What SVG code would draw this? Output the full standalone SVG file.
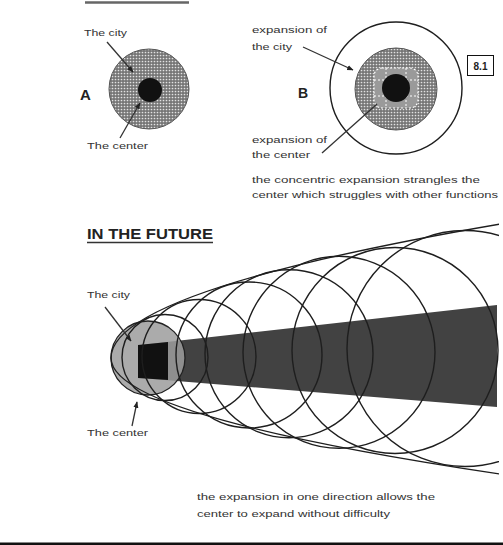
<svg xmlns="http://www.w3.org/2000/svg" width="503" height="545" viewBox="0 0 503 545">
<style>
.t{font-family:"Liberation Sans",Arial,sans-serif;font-size:9.5px;fill:#333}
.b{font-family:"Liberation Sans",Arial,sans-serif;font-weight:bold;fill:#222}
.ln{stroke:#333;stroke-width:1.3;fill:none}
.c{fill:none;stroke:#1e1e1e;stroke-width:1.4}
</style>
<defs>
<pattern id="dots" width="3" height="3" patternUnits="userSpaceOnUse"><rect width="3" height="3" fill="#767676"/><circle cx="1.5" cy="1.5" r="0.85" fill="#e2e2e2"/></pattern>
<marker id="ah" viewBox="0 0 10 10" refX="9" refY="5" markerWidth="5" markerHeight="5" orient="auto"><path d="M0,1 L10,5 L0,9 z" fill="#222"/></marker>
<clipPath id="crop"><rect x="0" y="200" width="499" height="300"/></clipPath>
</defs>
<rect width="503" height="545" fill="#fff"/>
<line x1="85" y1="2.5" x2="189" y2="2.5" stroke="#666" stroke-width="2.5"/>
<g id="figA">
<circle cx="149" cy="89" r="40" fill="url(#dots)" stroke="#555" stroke-width="1"/>
<circle cx="150" cy="90" r="12" fill="#111"/>
<text class="b" x="80" y="100" font-size="15">A</text>
</g>
<g id="labelsA">
<text class="t" x="84" y="36" textLength="43" lengthAdjust="spacingAndGlyphs">The city</text>
<text class="t" x="87" y="149" textLength="61" lengthAdjust="spacingAndGlyphs">The center</text>
</g>
<g id="figB">
<circle cx="396" cy="88" r="66" class="c" stroke-width="1.2"/>
<circle cx="396" cy="89" r="41" fill="url(#dots)" stroke="#555" stroke-width="1"/>
<rect x="374" y="68" width="44" height="40" rx="8" fill="#9a9a9a" stroke="#fff" stroke-width="1.2" stroke-dasharray="2 2"/>
<path d="M374 80 H418 M374 96 H418 M386 68 V108 M406 68 V108" stroke="#fff" stroke-width="1" stroke-dasharray="2 2"/>
<circle cx="396" cy="88" r="14" fill="#111"/>
<text class="b" x="298" y="98" font-size="14">B</text>
</g>
<g id="labelsB">
<text class="t" x="252" y="33" textLength="75" lengthAdjust="spacingAndGlyphs">expansion of</text>
<text class="t" x="252" y="50" textLength="40" lengthAdjust="spacingAndGlyphs">the city</text>
<text class="t" x="252" y="143" textLength="75" lengthAdjust="spacingAndGlyphs">expansion of</text>
<text class="t" x="252" y="158" textLength="58" lengthAdjust="spacingAndGlyphs">the center</text>
<text class="t" x="252" y="183" textLength="228" lengthAdjust="spacingAndGlyphs">the concentric expansion strangles the</text>
<text class="t" x="252" y="198" textLength="246" lengthAdjust="spacingAndGlyphs">center which struggles with other functions</text>
</g>
<g id="ref">
<rect x="467.5" y="55.5" width="26" height="20" fill="#fff" stroke="#111" stroke-width="1"/>
<text class="b" x="480.5" y="69.5" font-size="10" text-anchor="middle">8.1</text>
</g>
<g id="future">
<text class="b" x="87" y="239" font-size="14" textLength="126" lengthAdjust="spacingAndGlyphs">IN THE FUTURE</text>
<line x1="87" y1="242.5" x2="213" y2="242.5" stroke="#333" stroke-width="1.5"/>
<g clip-path="url(#crop)">
<path d="M140 345 L497 305 L497 407 L140 378 Z" fill="#424242"/>
<circle cx="148" cy="358" r="37" fill="#9c9c9c" fill-opacity="0.85" stroke="#222" stroke-width="1.3"/>
<path d="M138 345 L168 342 L168 380 L138 378 Z" fill="#111"/>
<circle class="c" cx="165" cy="357.5" r="43"/>
<circle class="c" cx="199" cy="356.5" r="57"/>
<circle class="c" cx="249" cy="355" r="73"/>
<circle class="c" cx="289" cy="353.8" r="84"/>
<circle class="c" cx="339" cy="352.3" r="96"/>
<circle class="c" cx="395" cy="350.5" r="103"/>
<circle class="c" cx="465" cy="348.5" r="118"/>
<path class="c" d="M500 224 Q111 291 111 358 Q111 416 500 474"/>
</g>
<text class="t" x="87" y="298" textLength="43" lengthAdjust="spacingAndGlyphs">The city</text>
<text class="t" x="87" y="436" textLength="61" lengthAdjust="spacingAndGlyphs">The center</text>
<text class="t" x="197" y="500" textLength="238" lengthAdjust="spacingAndGlyphs">the expansion in one direction allows the</text>
<text class="t" x="197" y="517" textLength="193" lengthAdjust="spacingAndGlyphs">center to expand without difficulty</text>
</g>
<g id="connectors">
<line class="ln" x1="107" y1="42" x2="133" y2="72" marker-end="url(#ah)"/>
<line class="ln" x1="120" y1="138" x2="140" y2="103" marker-end="url(#ah)"/>
<line class="ln" x1="303" y1="47" x2="353" y2="70" marker-end="url(#ah)"/>
<line class="ln" x1="322" y1="153" x2="377" y2="104"/>
<line class="ln" x1="105" y1="307" x2="131" y2="341" marker-end="url(#ah)"/>
<line class="ln" x1="132" y1="426" x2="137" y2="402" marker-end="url(#ah)"/>
</g>
<rect x="0" y="542.5" width="503" height="2.5" fill="#111"/>
</svg>
